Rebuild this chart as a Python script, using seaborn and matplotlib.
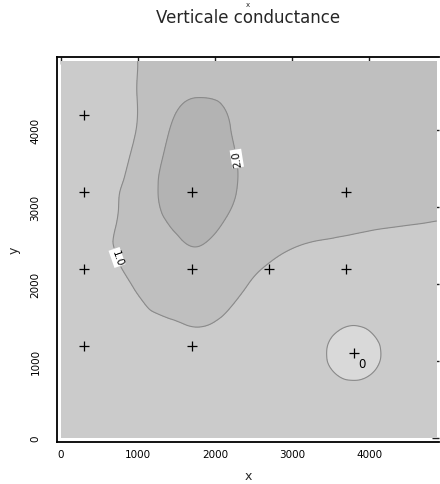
import numpy as np
import matplotlib
matplotlib.use("Agg")
import matplotlib.pyplot as plt
import matplotlib.tri as mtri
import seaborn as sns

# Grid nodes (m) on which the vertical conductance is given
grid_x = [0, 500, 1000, 1400, 1750, 2100, 2600, 3200, 3550, 3800, 4050, 4350, 4880]
grid_y = [0, 500, 850, 1100, 1350, 1500, 2000, 2500, 3000, 3500, 4000, 4450, 4900]

# Conductance values, one row per grid_y entry (bottom to top)
conductance = [
    [0.60, 0.65, 0.70, 0.75, 0.75, 0.75, 0.75, 0.75, 0.75, 0.75, 0.75, 0.75, 0.75],
    [0.60, 0.70, 0.75, 0.78, 0.80, 0.80, 0.80, 0.85, 0.84, 0.82, 0.84, 0.85, 0.78],
    [0.60, 0.71, 0.765, 0.79, 0.80, 0.80, 0.80, 0.84, 0.50, 0.30, 0.50, 0.80, 0.76],
    [0.60, 0.72, 0.78, 0.80, 0.80, 0.80, 0.80, 0.82, 0.30, 0.00, 0.30, 0.75, 0.75],
    [0.60, 0.735, 0.85, 0.904, 0.944, 0.898, 0.83, 0.84, 0.50, 0.30, 0.50, 0.78, 0.75],
    [0.60, 0.75, 0.892, 0.966, 1.03, 0.957, 0.85, 0.85, 0.646, 0.55, 0.646, 0.80, 0.75],
    [0.60, 0.80, 1.053, 1.35, 1.45, 1.246, 0.921, 0.85, 0.82, 0.80, 0.79, 0.78, 0.75],
    [0.60, 0.88, 1.25, 1.69, 2.02, 1.62, 1.15, 0.982, 0.953, 0.932, 0.911, 0.89, 0.85],
    [0.60, 0.88, 1.35, 2.25, 2.60, 2.25, 1.37, 1.25, 1.20, 1.17, 1.15, 1.13, 1.10],
    [0.60, 0.82, 1.25, 2.30, 2.70, 2.40, 1.45, 1.40, 1.37, 1.35, 1.33, 1.30, 1.30],
    [0.60, 0.80, 1.039, 1.98, 2.50, 2.20, 1.42, 1.40, 1.37, 1.35, 1.33, 1.30, 1.30],
    [0.60, 0.80, 1.017, 1.70, 1.97, 1.90, 1.50, 1.40, 1.37, 1.35, 1.33, 1.30, 1.30],
    [0.60, 0.80, 1.004, 1.40, 1.60, 1.50, 1.40, 1.35, 1.32, 1.30, 1.30, 1.30, 1.30],
]

# Observation wells
well_x = [300, 300, 300, 300, 1700, 1700, 1700, 2700, 3700, 3700, 3800]
well_y = [4200, 3200, 2200, 1200, 3200, 2200, 1200, 2200, 3200, 2200, 1100]
well_note = {"x": 3800, "y": 1100, "text": "0"}

# Contour levels and band fills
fill_levels = [-1.0, 0.5, 1.0, 2.0, 4.0]
fill_colors = ["#d9d9d9", "#cbcbcb", "#bfbfbf", "#b3b3b3"]
plain_levels = [0.5]
label_levels = [1.0, 2.0]
label_spots = [(735, 2350), (2262, 3630)]

sns.set_theme(style="white")
plt.rcParams["font.family"] = ["DejaVu Sans"]

fig = plt.figure(figsize=(4.4, 4.85), dpi=100)
ax = fig.add_axes([57 / 440, 42 / 485, 382 / 440, 385 / 485])

# Split every grid cell into two triangles, then smooth with a cubic interpolator
gx, gy = np.meshgrid(np.array(grid_x, float), np.array(grid_y, float))
z = np.array(conductance, float).ravel()
nx, ny = len(grid_x), len(grid_y)
tris = []
for j in range(ny - 1):
    for i in range(nx - 1):
        a = j * nx + i
        b, c, d = a + 1, a + nx, a + nx + 1
        tris.append([a, b, d])
        tris.append([a, d, c])
tri = mtri.Triangulation(gx.ravel(), gy.ravel(), np.array(tris))
interp = mtri.CubicTriInterpolator(tri, z, kind="min_E")
refiner = mtri.UniformTriRefiner(tri)
tri_f, z_f = refiner.refine_field(z, triinterpolator=interp, subdiv=4)

line_kw = dict(colors="#8a8a8a", linewidths=0.8)
ax.tricontourf(tri_f, z_f, levels=fill_levels, colors=fill_colors)
ax.tricontour(tri_f, z_f, levels=plain_levels, **line_kw)
cs = ax.tricontour(tri_f, z_f, levels=label_levels, **line_kw)
labels = ax.clabel(cs, fmt="%.1f", fontsize=7.5, inline=True,
                   inline_spacing=2, manual=label_spots, colors="black")
for t in labels:
    t.set_bbox(dict(facecolor="white", edgecolor="none", pad=0.6))
    if t.get_text() == "2.0":
        t.set_rotation((t.get_rotation() + 180) % 360)

# Wells
sns.scatterplot(x=well_x, y=well_y, marker="+", s=45, color="black",
                linewidth=0.9, ax=ax, legend=False, zorder=5)
ax.annotate(well_note["text"], (well_note["x"], well_note["y"]),
            xytext=(3, -7), textcoords="offset points", fontsize=8.5,
            ha="left", va="center", color="black")

ax.set_xlim(-52, 4909)
ax.set_ylim(-52, 4954)
ax.set_xticks([0, 1000, 2000, 3000, 4000])
ax.set_yticks([0, 1000, 2000, 3000, 4000])
ax.tick_params(direction="in", length=5, width=1.0, color="#222222",
               top=True, right=True, labelsize=7.5, labelcolor="black")
ax.tick_params(axis="x", pad=5)
ax.tick_params(axis="y", pad=12)
for lab in ax.get_yticklabels():
    lab.set_rotation(90)
    lab.set_va("center")
for sp in ax.spines.values():
    sp.set_color("black")
    sp.set_linewidth(1.3)
ax.spines["right"].set_visible(False)

ax.set_xlabel("")
ax.set_ylabel("")
fig.text(248 / 440, 1 - 477 / 485, "x", ha="center", va="center", fontsize=9)
fig.text(14 / 440, 1 - 250 / 485, "y", ha="center", va="center",
         fontsize=9, rotation=90)
fig.text(248 / 440, 1 - 23 / 485, "Verticale conductance", ha="center",
         va="baseline", fontsize=12)
fig.text(248 / 440, 1 - 7 / 485, "x", ha="center", va="baseline", fontsize=5)

fig.savefig("out.png", dpi=100)
